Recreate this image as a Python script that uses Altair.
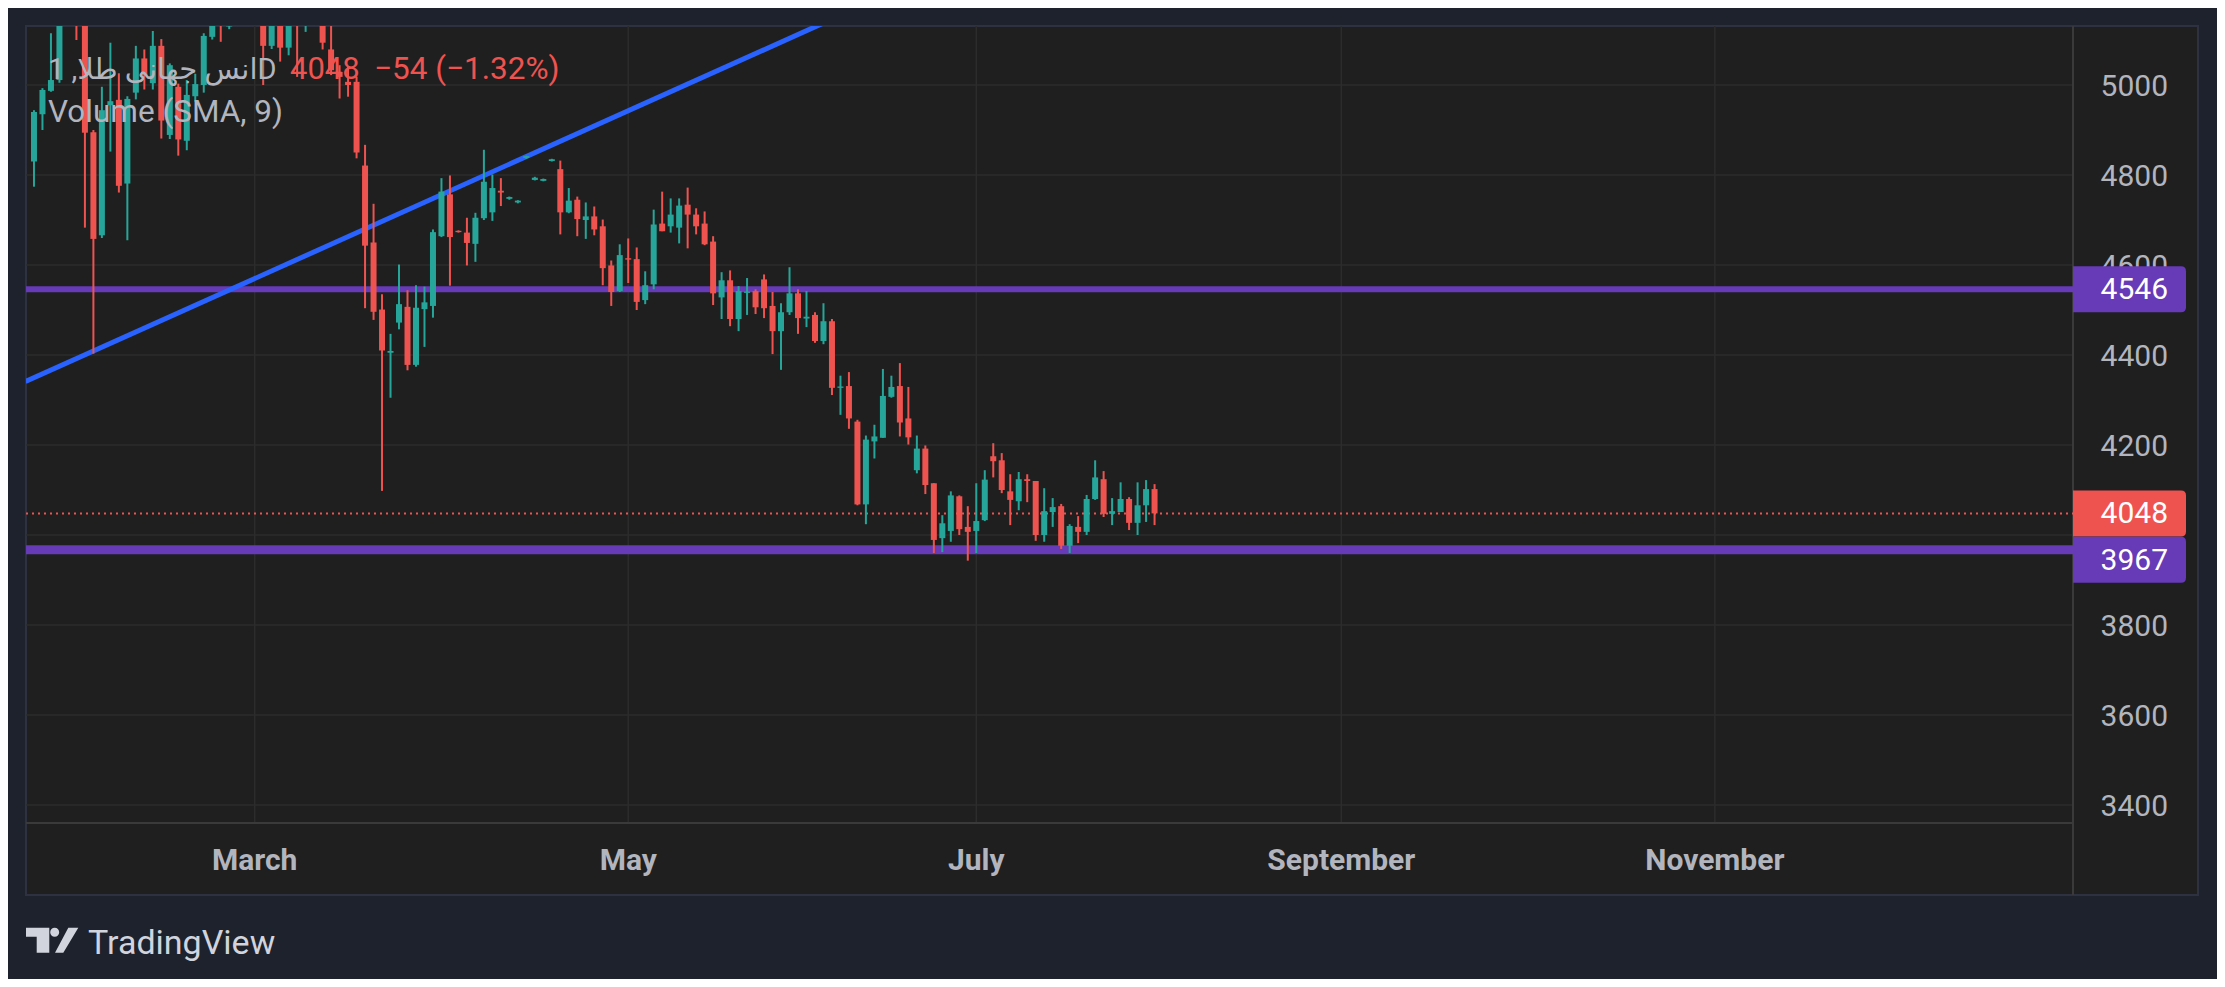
import altair as alt
import pandas as pd

# ---------------- data ----------------
opens = [4830, 4935, 4987, 5011, 5160, 5230, 5170, 4895, 4666, 4955,
         4967, 4781, 4983, 5059, 5004, 5087, 4889, 4996, 4876, 4975,
         5000, 5107, 5180, 5130, 5160, 5210, 5250, 5160, 5087, 5150,
         5083, 5190, 5150, 5170, 5150, 5079, 5029, 5007, 5007, 4821,
         4650, 4501, 4405, 4472, 4507, 4378, 4502, 4509, 4664, 4757,
         4676, 4672, 4647, 4704, 4717, 4765, 4747, 4739, 4838, 4789,
         4787, 4831, 4813, 4717, 4745, 4700, 4708, 4686, 4599, 4542,
         4615, 4613, 4522, 4557, 4692, 4686, 4683, 4734, 4712, 4692,
         4652, 4528, 4566, 4480, 4538, 4542, 4568, 4509, 4453, 4495,
         4537, 4481, 4489, 4431, 4475, 4327, 4331, 4252, 4068, 4208,
         4216, 4307, 4331, 4259, 4144, 4192, 4115, 3993, 4009, 4086,
         4018, 4009, 4033, 4175, 4166, 4097, 4075, 4124, 4120, 4000,
         4051, 4064, 3976, 4018, 4007, 4080, 4124, 4047, 4051, 4080,
         4027, 4066, 4102]
highs = [4944, 4993, 5115, 5180, 5240, 5260, 5200, 4900, 4996, 5094,
         5026, 4975, 5087, 5079, 5120, 5102, 5048, 5003, 5011, 5025,
         5115, 5160, 5200, 5170, 5230, 5280, 5300, 5190, 5170, 5170,
         5160, 5220, 5190, 5220, 5180, 5140, 5044, 5040, 5018, 4867,
         4736, 4535, 4447, 4601, 4544, 4555, 4552, 4679, 4793, 4799,
         4677, 4705, 4716, 4856, 4801, 4793, 4752, 4744, 4843, 4796,
         4792, 4836, 4832, 4771, 4752, 4739, 4730, 4701, 4610, 4646,
         4659, 4639, 4586, 4723, 4763, 4748, 4748, 4772, 4726, 4719,
         4664, 4584, 4588, 4553, 4571, 4546, 4579, 4540, 4515, 4595,
         4546, 4542, 4495, 4515, 4480, 4354, 4362, 4256, 4221, 4245,
         4369, 4354, 4382, 4329, 4221, 4199, 4115, 4044, 4097, 4088,
         4064, 4115, 4144, 4204, 4182, 4135, 4140, 4135, 4120, 4104,
         4082, 4069, 4024, 4042, 4089, 4166, 4142, 4082, 4117, 4084,
         4117, 4122, 4113]
lows = [4774, 4900, 4985, 5005, 5140, 5100, 4683, 4403, 4660, 4852,
        4761, 4655, 4968, 4990, 4990, 4881, 4880, 4843, 4855, 4963,
        4983, 5101, 5096, 5124, 5140, 5170, 5180, 5000, 5080, 5052,
        5066, 5018, 5118, 5150, 5079, 5022, 4970, 4974, 4837, 4504,
        4478, 4098, 4305, 4457, 4366, 4374, 4418, 4483, 4662, 4554,
        4672, 4599, 4607, 4700, 4698, 4731, 4745, 4737, 4836, 4788,
        4786, 4830, 4668, 4715, 4664, 4658, 4666, 4555, 4509, 4540,
        4560, 4500, 4513, 4546, 4675, 4672, 4648, 4637, 4668, 4644,
        4511, 4480, 4464, 4453, 4489, 4491, 4482, 4402, 4367, 4489,
        4447, 4462, 4427, 4424, 4311, 4267, 4236, 4066, 4024, 4170,
        4216, 4305, 4219, 4201, 4137, 4091, 3960, 3962, 3985, 4000,
        3943, 3960, 4031, 4128, 4093, 4022, 4055, 4073, 3987, 3985,
        4018, 3969, 3960, 3982, 4000, 4078, 4040, 4022, 4051, 4011,
        4000, 4029, 4022]
closes = [4940, 4989, 5011, 5160, 5210, 5170, 4894, 4658, 4944, 4964,
          4776, 4969, 5059, 5022, 5087, 4921, 5044, 4879, 4978, 5002,
          5109, 5150, 5140, 5160, 5210, 5250, 5200, 5087, 5150, 5083,
          5140, 5150, 5170, 5190, 5094, 5033, 5018, 5000, 4850, 4643,
          4496, 4410, 4409, 4513, 4378, 4505, 4517, 4673, 4763, 4662,
          4673, 4649, 4705, 4785, 4771, 4761, 4751, 4743, 4842, 4794,
          4791, 4835, 4717, 4743, 4702, 4708, 4679, 4593, 4540, 4622,
          4612, 4518, 4555, 4690, 4675, 4712, 4732, 4712, 4686, 4646,
          4537, 4566, 4480, 4542, 4541, 4506, 4504, 4453, 4495, 4537,
          4482, 4485, 4431, 4475, 4327, 4330, 4259, 4068, 4212, 4219,
          4309, 4329, 4250, 4217, 4192, 4111, 3989, 4026, 4088, 4013,
          4007, 4031, 4123, 4164, 4100, 4078, 4124, 4120, 4000, 4053,
          4062, 3976, 4020, 4007, 4080, 4128, 4047, 4053, 4080, 4027,
          4066, 4102, 4048]

grid_prices = [3400, 3600, 3800, 4000, 4200, 4400, 4600, 4800, 5000]
axis_labels = [3400, 3600, 3800, 4200, 4400, 4600, 4800, 5000]  # 4000 is hidden behind the price tags
month_labels = ["March", "May", "July", "September", "November"]
month_pos = [26, 70, 111, 154, 198]
level_prices = [4546, 3967]
level_widths = [6, 9]
last_price = 4048
trend_i = [-1, 100]
trend_p = [4341, 5197]

title_text = "انس جهانی طلا, 1D"
last_text = "4048"
change_text = "\u221254 (\u22121.32%)"
volume_text = "Volume (SMA, 9)"
brand_text = "TradingView"

# ---------------- style ----------------
UP = "#26a69a"
DOWN = "#ef5350"
PURPLE = "#673ab7"
BLUE = "#2962ff"
GRID = "#2c2c2c"
TXT = "#b2b5be"
FONT = "Roboto, 'DejaVu Sans', sans-serif"

W, H = 2047, 797
PANEL_W, PANEL_H = 2172, 869

xs = alt.Scale(domain=[-0.35, 239.6], nice=False, zero=False)
ys = alt.Scale(domain=[3360, 5131.1], nice=False, zero=False)

one = pd.DataFrame({"k": [0]})

candles = pd.DataFrame({"i": list(range(len(opens))), "o": opens,
                        "h": highs, "l": lows, "c": closes})

panel = alt.Chart(one).mark_rect(fill="#1f1f1f", stroke="#2e3240", strokeWidth=2).encode(
    x=alt.value(0), x2=alt.value(PANEL_W), y=alt.value(0), y2=alt.value(PANEL_H))

sep_v = alt.Chart(one).mark_rule(color="#3a3a3a", strokeWidth=2).encode(
    x=alt.value(W), y=alt.value(0), y2=alt.value(PANEL_H))
sep_h = alt.Chart(one).mark_rule(color="#3a3a3a", strokeWidth=2).encode(
    y=alt.value(H), x=alt.value(0), x2=alt.value(W))

hgrid = alt.Chart(pd.DataFrame({"p": grid_prices})).mark_rule(color=GRID, strokeWidth=1.5).encode(
    y=alt.Y("p:Q", scale=ys, axis=None), x=alt.value(0), x2=alt.value(W))
vgrid = alt.Chart(pd.DataFrame({"m": month_pos})).mark_rule(color=GRID, strokeWidth=1.5).encode(
    x=alt.X("m:Q", scale=xs, axis=None), y=alt.value(0), y2=alt.value(H))

levels = alt.Chart(pd.DataFrame({"p": level_prices, "w": level_widths})).mark_rule(color=PURPLE).encode(
    y=alt.Y("p:Q", scale=ys, axis=None), x=alt.value(0), x2=alt.value(W),
    strokeWidth=alt.StrokeWidth("w:Q", scale=None, legend=None))

last_line = alt.Chart(pd.DataFrame({"p": [last_price]})).mark_rule(
    color=DOWN, strokeWidth=2, strokeDash=[2, 4]).encode(
    y=alt.Y("p:Q", scale=ys, axis=None), x=alt.value(0), x2=alt.value(W))

trend = alt.Chart(pd.DataFrame({"ti": trend_i, "tp": trend_p})).mark_line(
    color=BLUE, strokeWidth=5, clip=True).encode(
    x=alt.X("ti:Q", scale=xs, axis=None), y=alt.Y("tp:Q", scale=ys, axis=None))

cbase = alt.Chart(candles).transform_calculate(
    dir="datum.c >= datum.o ? 'up' : 'down'")
ccolor = alt.Color("dir:N", scale=alt.Scale(domain=["up", "down"], range=[UP, DOWN]), legend=None)

wicks = cbase.mark_rule(strokeWidth=2, clip=True).encode(
    x=alt.X("i:Q", scale=xs, axis=None), y=alt.Y("l:Q", scale=ys, axis=None), y2="h:Q", color=ccolor)
bodies = cbase.mark_bar(size=6, clip=True).encode(
    x=alt.X("i:Q", scale=xs, axis=None), y=alt.Y("o:Q", scale=ys, axis=None), y2="c:Q", color=ccolor)

price_labels = alt.Chart(pd.DataFrame({"p": axis_labels})).mark_text(
    align="right", baseline="middle", fontSize=30, color=TXT, font=FONT, dy=2).encode(
    y=alt.Y("p:Q", scale=ys, axis=None), x=alt.value(W + 95), text=alt.Text("p:Q", format="d"))

month_text = alt.Chart(pd.DataFrame({"m": month_pos, "name": month_labels})).mark_text(
    align="center", baseline="middle", fontSize=30, fontWeight="bold", color=TXT, font=FONT, dy=1).encode(
    x=alt.X("m:Q", scale=xs, axis=None), y=alt.value(834), text="name:N")

BOX = "M0,-23H108Q113,-23 113,-18V18Q113,23 108,23H0Z"
box_df = pd.DataFrame({"p": [level_prices[0], last_price], "col": [PURPLE, DOWN]})
boxes = alt.Chart(box_df).mark_point(shape=BOX, size=4, filled=True, opacity=1, strokeWidth=0).encode(
    x=alt.value(W), y=alt.Y("p:Q", scale=ys, axis=None), color=alt.Color("col:N", scale=None))
box_text = alt.Chart(box_df).mark_text(align="right", baseline="middle", fontSize=30,
                                       color="white", font=FONT, dy=1).encode(
    x=alt.value(W + 95), y=alt.Y("p:Q", scale=ys, axis=None), text=alt.Text("p:Q", format="d"))
low_df = pd.DataFrame({"p": [level_prices[1]]})
low_box = alt.Chart(low_df).mark_point(shape=BOX, size=4, filled=True, opacity=1, strokeWidth=0,
                                       color=PURPLE, yOffset=10).encode(
    x=alt.value(W), y=alt.Y("p:Q", scale=ys, axis=None))
low_text = alt.Chart(low_df).mark_text(align="right", baseline="middle", fontSize=30, color="white",
                                       font=FONT, yOffset=11).encode(
    x=alt.value(W + 95), y=alt.Y("p:Q", scale=ys, axis=None), text=alt.Text("p:Q", format="d"))

hdr1 = alt.Chart(one).mark_text(align="left", baseline="alphabetic", fontSize=29, color=TXT, font=FONT).encode(
    x=alt.value(22), y=alt.value(53), text=alt.value(title_text))
hdr2 = alt.Chart(one).mark_text(align="left", baseline="alphabetic", fontSize=31, color=DOWN, font=FONT).encode(
    x=alt.value(264), y=alt.value(53), text=alt.value(last_text))
hdr3 = alt.Chart(one).mark_text(align="left", baseline="alphabetic", fontSize=31.5, color=DOWN, font=FONT).encode(
    x=alt.value(348), y=alt.value(53), text=alt.value(change_text))
hdr4 = alt.Chart(one).mark_text(align="left", baseline="alphabetic", fontSize=31.5, color=TXT, font=FONT).encode(
    x=alt.value(22), y=alt.value(96), text=alt.value(volume_text))

LOGO = ("M0,-12.3H23.3V12.7H10.7V-3.3H0Z M42.3,-12.3H52.3L37.3,12.7H29Z "
        "M24.2,-7.8A4.5,4.5 0 1 0 33.2,-7.8A4.5,4.5 0 1 0 24.2,-7.8Z")
logo = alt.Chart(one).mark_point(shape=LOGO, size=4, filled=True, opacity=1, strokeWidth=0,
                                 color="#d1d4dc").encode(x=alt.value(0), y=alt.value(914))
brand = alt.Chart(one).mark_text(align="left", baseline="alphabetic", fontSize=34, color="#d1d4dc",
                                 font=FONT).encode(x=alt.value(62), y=alt.value(928), text=alt.value(brand_text))

chart = alt.layer(
    panel, hgrid, vgrid, sep_v, sep_h, levels, last_line, trend, wicks, bodies,
    price_labels, month_text, boxes, box_text, low_box, low_text,
    hdr1, hdr2, hdr3, hdr4, logo, brand
).properties(
    width=W, height=H,
    autosize=alt.AutoSizeParams(type="none"),
    padding={"left": 18, "top": 18, "right": 144, "bottom": 156},
).configure(background="#1e222d").configure_view(strokeWidth=0)

chart.save("out.html", embed_options={"renderer": "svg", "actions": False})
